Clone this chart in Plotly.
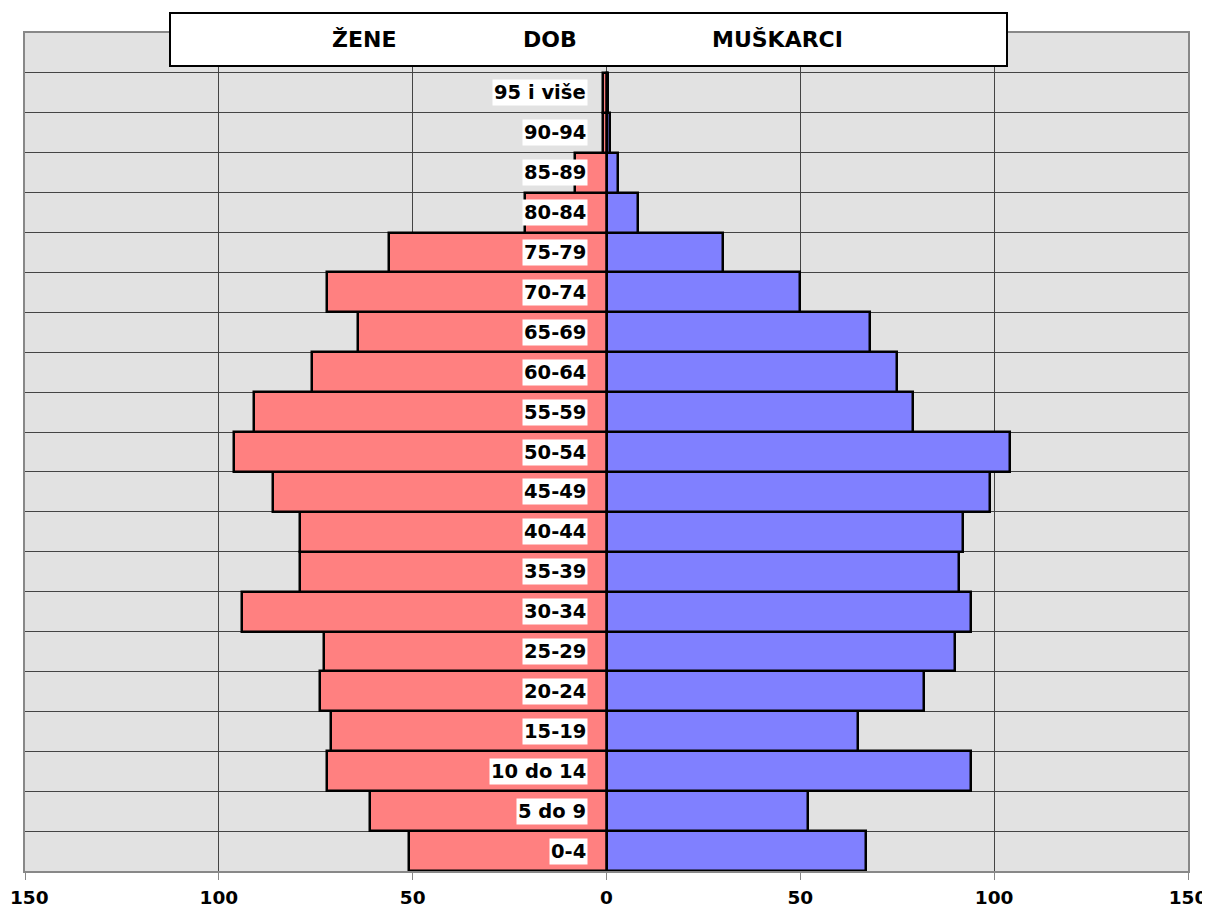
import plotly.graph_objects as go

age_groups = ["0-4", "5 do 9", "10 do 14", "15-19", "20-24", "25-29", "30-34",
              "35-39", "40-44", "45-49", "50-54", "55-59", "60-64", "65-69",
              "70-74", "75-79", "80-84", "85-89", "90-94", "95 i više"]
women = [51, 61, 72, 71, 74, 73, 94, 79, 79, 86, 96, 91, 76, 64, 72, 56, 21, 8, 1, 1]
men = [67, 52, 94, 65, 82, 90, 94, 91, 92, 99, 104, 79, 75, 68, 50, 30, 8, 3, 1, 0.4]
tick_vals = [-150, -100, -50, 0, 50, 100, 150]
tick_text = ["150", "100", "50", "0", "50", "100", "150"]
headers = [("ŽENE", -62.6), ("DOB", -14.7), ("MUŠKARCI", 44.0)]

ypos = list(range(len(age_groups)))
FONT = "DejaVu Sans"

fig = go.Figure()
fig.add_trace(go.Bar(
    y=ypos, x=[-v for v in women], orientation="h", width=1,
    marker=dict(color="#FF8080", line=dict(color="black", width=2.5)),
    name="Žene", showlegend=False))
fig.add_trace(go.Bar(
    y=ypos, x=men, orientation="h", width=1,
    marker=dict(color="#8080FF", line=dict(color="black", width=2.5)),
    name="Muškarci", showlegend=False))

annotations = []
for i, lab in enumerate(age_groups):
    annotations.append(dict(
        x=-4.9, y=i, xref="x", yref="y", text=lab,
        showarrow=False, xanchor="right", yanchor="middle",
        bgcolor="white", borderpad=1,
        font=dict(family=FONT, size=19.5, color="black", weight="bold")))
for txt, xv in headers:
    annotations.append(dict(
        x=xv, y=0.9928, xref="x", yref="paper", text=txt,
        showarrow=False, xanchor="center", yanchor="middle",
        font=dict(family=FONT, size=22, color="black", weight="bold")))
# leftmost tick label drawn as annotation so that it stays inside the page
annotations.append(dict(
    x=tick_vals[0], y=0, xref="x", yref="paper", text=tick_text[0],
    showarrow=False, xanchor="left", yanchor="middle", xshift=-17, yshift=-26,
    font=dict(family=FONT, size=18.5, color="black", weight="bold")))
shown_ticks = [""] + tick_text[1:]

shapes = [dict(type="rect", xref="paper", yref="paper",
               x0=(170 - 25) / 1163, x1=(1007 - 25) / 1163,
               y0=(871 - 66) / 838, y1=(871 - 13) / 838,
               fillcolor="white", line=dict(color="black", width=2),
               layer="above")]

fig.update_layout(
    width=1202, height=901,
    margin=dict(l=17, r=22, t=25, b=38, autoexpand=False),
    paper_bgcolor="white", plot_bgcolor="#E2E2E2",
    barmode="overlay", bargap=0,
    annotations=annotations, shapes=shapes,
    xaxis=dict(range=[-150, 150], tickvals=tick_vals, ticktext=shown_ticks,
               showgrid=True, gridcolor="#444444", gridwidth=1,
               zeroline=True, zerolinecolor="#444444", zerolinewidth=1,
               showline=True, linecolor="#888888", linewidth=2, mirror=True,
               ticks="outside", ticklen=7, tickcolor="#888888",
               ticklabelstandoff=2, ticklabeloverflow="allow",
               tickfont=dict(family=FONT, size=18.5, color="black", weight="bold"),
               automargin=False, fixedrange=True),
    yaxis=dict(range=[-0.5, 20.5], tickvals=[k - 0.5 for k in range(21)],
               showticklabels=False, showgrid=True, gridcolor="#444444",
               gridwidth=1, zeroline=False,
               showline=True, linecolor="#888888", linewidth=2, mirror=True,
               automargin=False, fixedrange=True),
)

fig.write_html("out.html")
